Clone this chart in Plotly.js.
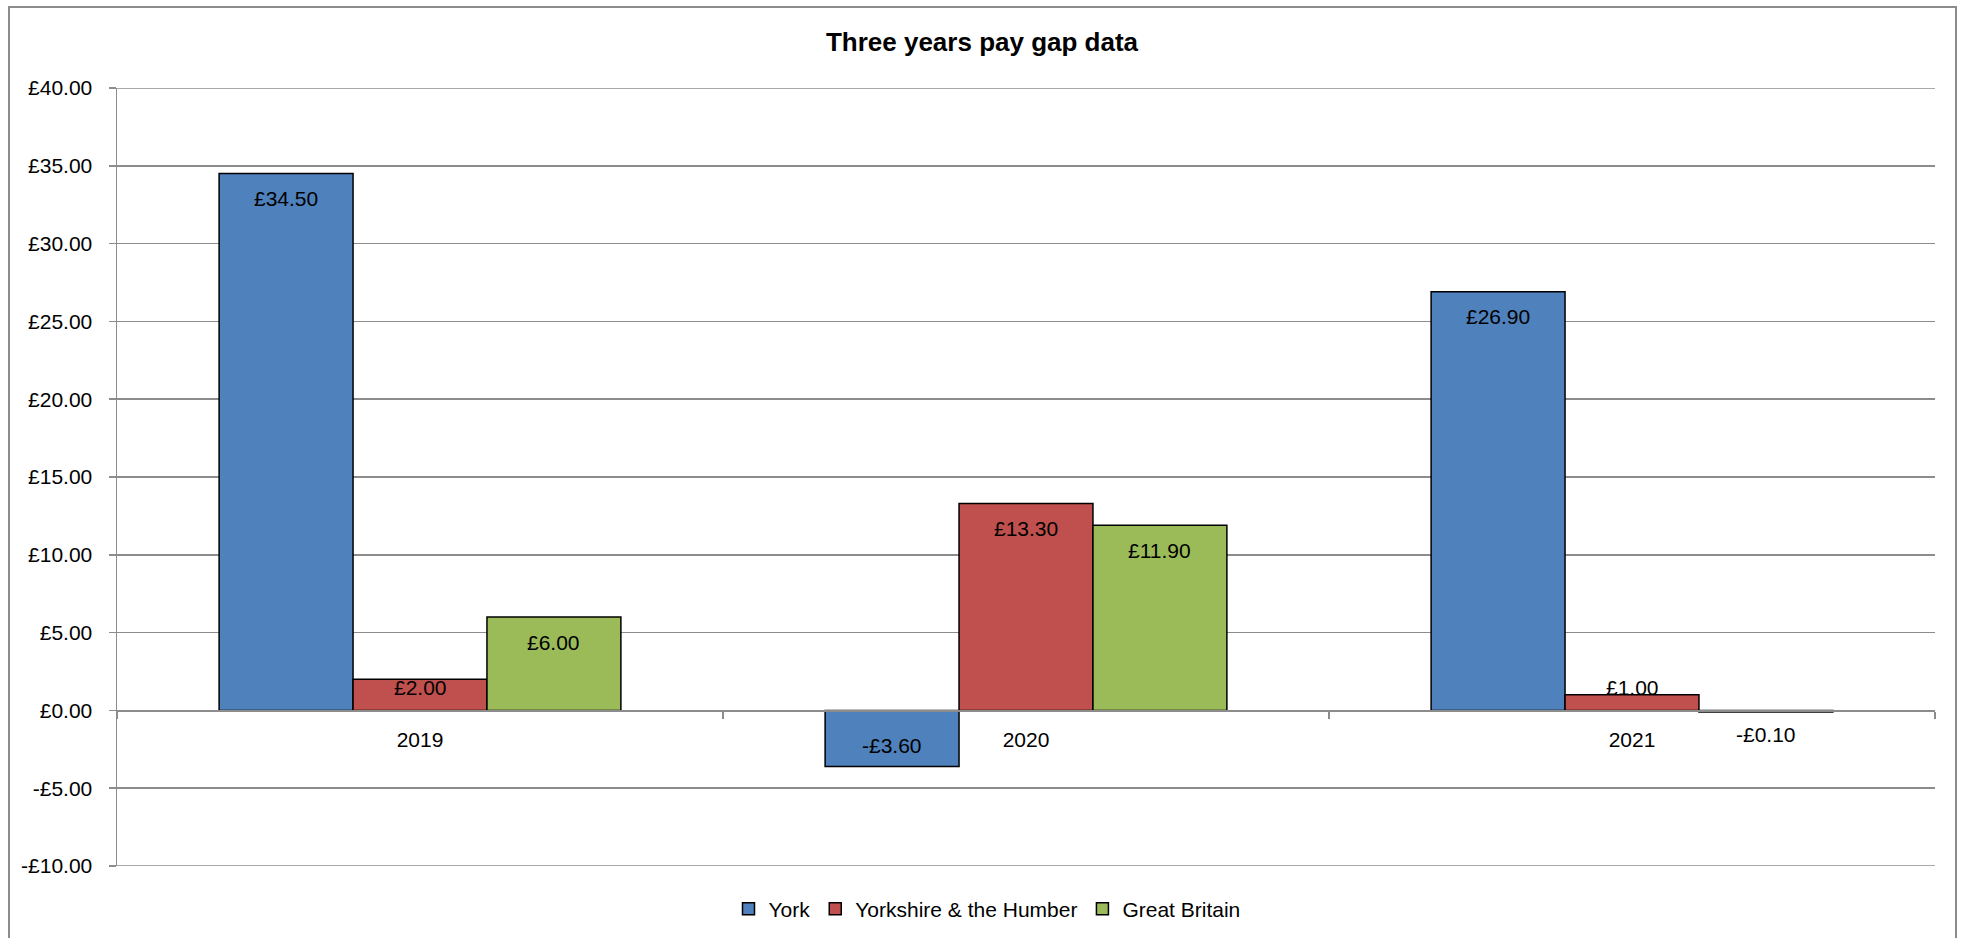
<!DOCTYPE html>
<html>
<head>
<meta charset="utf-8">
<script src="https://cdn.plot.ly/plotly-3.0.1.min.js"></script>
<style>
  html, body { margin: 0; padding: 0; background: #fff; overflow: hidden; }
  #chart { width: 1965px; height: 938px; }
</style>
</head>
<body>
<div id="chart"></div>
<script>
// ---- Data ----
const categories = ["2019", "2020", "2021"];
const seriesNames = ["York", "Yorkshire & the Humber", "Great Britain"];
const yorkValues = [34.50, -3.60, 26.90];
const yorkshireValues = [2.00, 13.30, 1.00];
const gbValues = [6.00, 11.90, -0.10];
const seriesColors = ["#4F81BD", "#C0504D", "#9BBB59"];
const yTickVals = [-10, -5, 0, 5, 10, 15, 20, 25, 30, 35, 40];
const yTickText = ["-£10.00", "-£5.00", "£0.00", "£5.00", "£10.00", "£15.00", "£20.00", "£25.00", "£30.00", "£35.00", "£40.00"];

// ---- Layout constants ----
const W = 1965, H = 938;
const M = { l: 117, r: 30, t: 88, b: 72 };
const yRange = [-10, 40];
const barGap = 0.337;
const FONT = "Liberation Sans, Arial, sans-serif";
const GRID = "#8c8c8c";
const plotH = H - M.t - M.b;
const ppu = plotH / (yRange[1] - yRange[0]);

function money(v) {
  const s = "£" + Math.abs(v).toFixed(2);
  return v < 0 ? "-" + s : s;
}

const allSeries = [yorkValues, yorkshireValues, gbValues];

const traces = allSeries.map((vals, i) => ({
  type: "bar",
  name: seriesNames[i],
  x: categories,
  y: vals,
  marker: { color: seriesColors[i], line: { color: "#000", width: 1.5 } },
  hoverinfo: "x+y+name"
}));

// data labels (Excel "inside end" style)
const nS = allSeries.length;
const w = (1 - barGap) / nS;
const annotations = [];
allSeries.forEach((vals, i) => {
  vals.forEach((v, j) => {
    const hpx = Math.abs(v) * ppu;
    let ys;
    if (v >= 0) ys = -Math.min(25, hpx - 23);
    else ys = Math.min(21, hpx - 24);
    annotations.push({
      x: j + (i - (nS - 1) / 2) * w,
      y: v,
      xref: "x", yref: "y",
      text: money(v),
      showarrow: false,
      xanchor: "center", yanchor: "middle",
      yshift: ys,
      font: { family: FONT, size: 21, color: "#000" }
    });
  });
});

const x0p = (9 - M.l) / (W - M.l - M.r);
const x1p = (1956 - M.l) / (W - M.l - M.r);
const y1p = (H - M.b - 7) / plotH;
const y0p = (H - M.b - 945) / plotH;

// gridlines at the range ends (Plotly omits them)
const edgeGrid = [yRange[0], yRange[1]].map(v => ({
  type: "line", xref: "paper", yref: "y",
  x0: 0, x1: 1, y0: v, y1: v,
  line: { color: GRID, width: 1.5 },
  layer: "below"
}));

const layout = {
  width: W, height: H,
  margin: M,
  paper_bgcolor: "#fff",
  plot_bgcolor: "#fff",
  font: { family: FONT, size: 21, color: "#000" },
  title: {
    text: "<b>Three years pay gap data</b>",
    font: { family: FONT, size: 26, color: "#000" },
    x: 982 / W, xanchor: "center", xref: "container",
    y: 1 - 42 / H, yanchor: "middle", yref: "container"
  },
  barmode: "group",
  bargap: barGap,
  bargroupgap: 0,
  showlegend: true,
  legend: {
    orientation: "h",
    xref: "container", yref: "container",
    x: 987 / W, xanchor: "center",
    y: 1 - 909 / H, yanchor: "middle",
    font: { family: FONT, size: 21, color: "#000" },
    bgcolor: "rgba(0,0,0,0)"
  },
  xaxis: {
    type: "category",
    anchor: "free",
    position: (0 - yRange[0]) / (yRange[1] - yRange[0]),
    showline: true, linecolor: GRID, linewidth: 1.5,
    ticks: "outside", tickson: "boundaries", ticklen: 7, tickcolor: GRID, tickwidth: 1.5,
    ticklabelstandoff: 10,
    showgrid: false, zeroline: false,
    tickfont: { family: FONT, size: 21, color: "#000" },
    fixedrange: true
  },
  yaxis: {
    range: yRange,
    tickvals: yTickVals,
    ticktext: yTickText,
    showline: true, linecolor: GRID, linewidth: 1.5,
    ticks: "outside", ticklen: 7, tickcolor: GRID, tickwidth: 1.5,
    ticklabelstandoff: 12,
    showgrid: true, gridcolor: GRID, gridwidth: 1.5,
    zeroline: false,
    tickfont: { family: FONT, size: 21, color: "#000" },
    fixedrange: true
  },
  annotations: annotations,
  shapes: [{
    type: "rect", xref: "paper", yref: "paper",
    x0: x0p, x1: x1p, y0: y0p, y1: y1p,
    line: { color: GRID, width: 2 },
    fillcolor: "rgba(0,0,0,0)",
    layer: "below"
  }].concat(edgeGrid)
};

Plotly.newPlot("chart", traces, layout, { displayModeBar: false, staticPlot: true });
</script>
</body>
</html>
